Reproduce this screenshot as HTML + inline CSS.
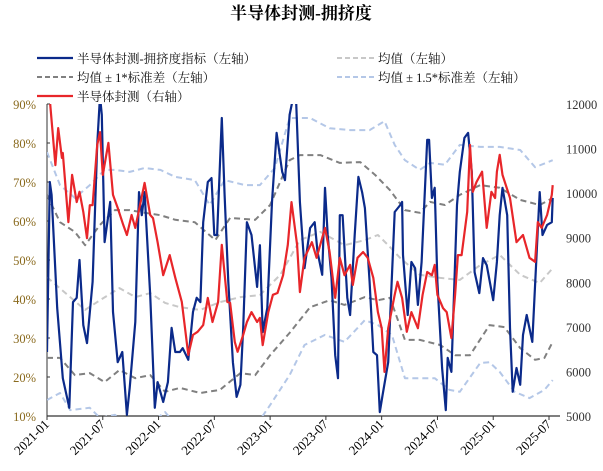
<!DOCTYPE html>
<html><head><meta charset="utf-8"><style>
html,body{margin:0;padding:0;background:#fff;width:603px;height:471px;overflow:hidden}
svg{display:block}
text{font-family:"Liberation Serif","Noto Serif CJK SC",serif}
</style></head><body>
<svg id="chart" width="603" height="471" viewBox="0 0 603 471" xmlns="http://www.w3.org/2000/svg">
<text x="301" y="19" text-anchor="middle" font-size="17" font-weight="bold" fill="#000">半导体封测-拥挤度</text>
<g id="legend" font-size="12.5">
 <g><line x1="37" y1="58" x2="73" y2="58" stroke="#0b2a8a" stroke-width="2.2"/><text x="77" y="63" fill="#111">半导体封测-拥挤度指标（左轴）</text></g>
 <g><line x1="337" y1="58" x2="375" y2="58" stroke="#c8c8c8" stroke-width="2" stroke-dasharray="5,3"/><text x="378" y="63" fill="#111">均值（左轴）</text></g>
 <g><line x1="37" y1="77" x2="73" y2="77" stroke="#808080" stroke-width="2" stroke-dasharray="5,3"/><text x="77" y="82" fill="#111">均值 ± 1*标准差（左轴）</text></g>
 <g><line x1="337" y1="77" x2="375" y2="77" stroke="#b4c7e7" stroke-width="2" stroke-dasharray="5,3"/><text x="378" y="82" fill="#111">均值 ± 1.5*标准差（左轴）</text></g>
 <g><line x1="37" y1="96" x2="73" y2="96" stroke="#e8262a" stroke-width="2.2"/><text x="77" y="101" fill="#111">半导体封测（右轴）</text></g>
</g>
<g id="axes"></g>
<defs><clipPath id="plotclip"><rect x="47" y="104" width="513" height="312"/></clipPath></defs>
<g id="series" clip-path="url(#plotclip)"></g>
</svg>
<script>
// months since 2021-01, value
const xTickLabels = ["2021-01","2021-07","2022-01","2022-07","2023-01","2023-07","2024-01","2024-07","2025-01","2025-07"];
const xTickMonths = [0,6,12,18,24,30,36,42,48,54];
const leftTicks = [10,20,30,40,50,60,70,80,90];
const rightTicks = [5000,6000,7000,8000,9000,10000,11000,12000];
const crowdT = [0,0.3,0.5,1.1,1.7,2.4,2.8,3.2,3.5,3.9,4.3,4.9,5.4,5.7,5.9,6.2,6.8,7.1,7.6,8.1,8.6,8.9,9.5,9.9,10.2,10.5,11.1,11.6,11.9,12.5,13.0,13.4,13.8,14.3,14.6,15.2,15.7,16.1,16.5,16.8,17.3,17.7,18.0,18.3,18.8,19.1,19.5,20.0,20.4,20.8,21.1,21.5,22.0,22.6,22.9,23.2,23.7,24.2,24.7,25.3,25.6,26.1,26.5,26.8,27.2,27.7,28.3,28.8,29.1,29.6,29.9,30.2,30.6,31.0,31.3,31.5,31.8,32.3,32.6,33.1,33.5,33.9,34.2,34.7,35.1,35.5,35.8,36.1,36.7,37.4,38.0,38.2,38.3,38.8,39.2,39.6,39.9,40.3,40.9,41.1,41.4,41.7,42.0,42.5,42.9,43.1,43.5,44.1,44.4,44.9,45.3,45.7,46.0,46.5,46.9,47.3,48.0,48.4,48.7,49.0,49.5,49.8,50.1,50.5,50.9,51.2,51.6,52.2,52.7,53.0,53.3,53.8,54.3,54.4];
const crowdV = [26.4,70.0,66.7,37.7,19.7,12.1,39.2,40.3,50.0,33.3,28.7,44.4,79.5,92,87.2,54.6,64.9,36.7,23.8,26.4,10.3,17.2,34.1,67.4,61.5,67.4,41.0,12.1,18.7,13.6,18.7,32.6,26.4,26.4,27.4,24.4,36.7,40.3,39.2,59.7,70.0,71.0,56.4,56.4,86.4,66.7,44.4,23.8,14.9,18.0,32.6,59.7,56.4,43.1,53.8,31.5,37.7,64.9,82.6,72.6,70.5,87.2,92,91,64.9,47.9,58.2,59.7,52.1,46.2,68.5,56.4,45.4,25.6,19.7,61.5,61.5,40.3,35.9,56.4,71.3,67.4,63.3,44.4,26.4,25.6,11.0,15.4,23.8,62.3,64.1,64.9,51.3,35.9,49.5,47.9,38.5,49.5,80.8,80.8,65.9,68.5,44.4,22.3,11.5,24.9,21.3,64.1,72.6,81.3,82.6,72.6,46.9,41.5,50.5,48.7,39.7,49.5,61.5,68.5,61.5,32.6,16.2,22.3,18.0,30.8,35.9,29.0,53.1,67.4,56.4,59.0,59.7,65.9];
const priceT = [0,0.3,0.9,1.2,1.6,1.7,2.3,2.7,3.2,3.5,3.9,4.3,4.6,4.9,5.4,5.7,6.0,6.6,7.1,7.6,8.2,8.6,9.1,9.5,10.0,10.5,11.1,11.4,11.9,12.5,13.2,13.8,14.5,15.2,15.7,16.2,16.8,17.3,17.8,18.4,18.8,19.4,19.7,20.2,20.5,21.1,21.5,22.0,22.6,22.9,23.2,23.8,24.3,24.8,25.4,25.9,26.3,26.9,27.2,27.7,28.5,29.0,29.9,30.4,31.0,31.5,32.0,32.6,32.9,33.4,34.0,34.5,35.1,35.6,36.0,36.3,36.7,37.4,37.7,38.2,38.7,39.2,39.9,40.4,40.9,41.4,41.7,42.0,42.6,43.0,43.5,43.9,44.2,44.6,45.2,45.5,45.8,46.2,46.8,47.3,47.8,48.2,48.4,48.7,49.0,49.8,50.5,51.2,51.9,52.5,52.8,53.2,53.8,54.3,54.4];
const priceV = [12100,12100,10630,11460,10790,10900,9350,10410,9800,10030,9580,8990,9730,9730,11080,11370,10410,11130,9960,9670,9290,9060,9510,9220,9730,10230,9510,9440,8900,8160,8610,8100,7560,6370,6820,6890,7040,7650,7110,7560,8840,7560,7540,6660,6440,6820,7110,7330,7110,7200,6590,7330,7720,7760,8160,8840,9800,8840,7780,8550,8900,8550,9220,8680,7650,8550,8160,8390,7940,8550,8680,8550,8100,7330,6970,5990,6970,7720,8010,7650,6890,7330,6970,7720,8230,8160,8390,7720,7420,7330,6750,7720,8610,8610,9580,11080,10030,10250,10480,9220,10030,9890,10480,10860,10410,9890,8900,9060,8550,8460,9350,9220,9510,9960,10180];
const meanT = [0,1.6,4.1,5.7,7.8,9.5,11.1,12.7,14.3,16.5,18.6,20.8,22.9,25.1,27.2,29.4,32.0,34.2,35.6,36.7,38.0,40.1,42.3,44.4,46.6,48.7,50.9,53.0,54.4];
const meanV = [45.6,42.3,37.2,39.7,42.8,40.5,41.5,39.0,37.9,37.2,39.2,40.5,41.0,46.2,55.1,57.2,53.8,55.1,56.4,53.8,50.5,46.2,45.4,44.9,48.7,51.3,46.2,44.1,47.9];
const up1T = [0,1.4,3.0,4.1,5.7,7.3,8.9,10.5,12.2,13.8,15.9,18.1,19.7,22.4,24.0,26.1,27.2,29.4,31.5,33.7,35.3,36.9,38.5,40.1,41.2,42.8,44.4,46.6,48.7,50.9,53.0,54.4];
const up1V = [66.7,59.7,57.2,53.8,59.0,62.8,62.8,62.1,61.5,60.3,59.7,55.1,60.8,60.3,64.1,75.6,76.9,76.9,74.9,75.1,71.8,67.9,62.8,62.1,64.9,64.1,66.7,69.2,68.5,65.4,64.1,65.9];
const lo1T = [0,1.4,3.0,4.6,6.2,7.8,9.5,11.1,12.7,14.3,16.5,18.6,20.8,22.4,24.0,26.1,28.3,30.4,32.0,34.2,35.6,36.9,38.5,40.1,42.3,43.9,45.5,47.6,49.2,50.9,52.5,53.5,54.4];
const lo1V = [24.9,24.9,20.5,21.0,18.7,21.8,19.7,20.5,16.2,17.2,15.9,16.7,21.0,20.5,25.6,31.3,37.9,39.7,38.5,40.5,39.7,40.3,29.5,29.5,28.2,25.6,25.6,33.3,32.8,27.4,24.4,24.9,29.0];
const up15T = [0,1.4,3.0,4.6,6.2,7.3,8.9,10.5,12.2,13.8,15.9,17.5,19.1,21.3,22.9,24.5,26.1,28.3,30.4,32.6,34.7,36.3,37.4,38.5,40.1,41.2,42.8,44.4,46.6,48.7,50.9,52.5,54.4];
const up15V = [77.7,69.2,65.9,69.2,73.1,73.1,72.6,73.6,73.1,71.3,70.5,64.1,70.5,69.2,69.2,73.6,86.4,86.4,83.8,83.3,83.3,85.6,79.5,75.6,73.1,74.9,74.4,79.5,79.0,79.0,78.2,73.8,75.6];
const lo15T = [0,1.4,2.5,4.6,5.7,7.3,8.4,10.5,11.6,12.7,14.3,16.5,18.1,20.2,22.9,24.0,26.1,27.7,29.9,32.0,34.2,35.6,37.1,38.5,40.1,41.7,43.3,44.4,46.6,47.6,48.7,50.3,51.9,53.5,54.4];
const lo15V = [14.1,15.9,11.5,12.1,9.5,10.3,8.2,9.5,9.0,11.0,6.4,9.0,9.0,5.1,9.0,12.8,20.5,28.2,30.8,29.0,34.6,33.3,30.8,19.7,19.7,19.7,16.7,16.2,23.6,23.8,21.3,16.2,14.6,16.7,19.2];

const NS="http://www.w3.org/2000/svg";
const X0=47, PXM=(549-47)/54;
const xs=t=>X0+t*PXM;
const yL=v=>416-(v-10)*(312/80);
const yR=v=>416-(v-5000)*(312/7000);
const axes=document.getElementById('axes'), series=document.getElementById('series');
function mk(tag,attrs,parent){const e=document.createElementNS(NS,tag);for(const k in attrs)e.setAttribute(k,attrs[k]);parent.appendChild(e);return e;}
let ax=mk('line',{x1:X0,y1:416,x2:560,y2:416,stroke:'#333','stroke-width':1.2},axes);


let ay=mk('line',{x1:X0,y1:104,x2:X0,y2:416,stroke:'#333','stroke-width':1},axes);


xTickMonths.forEach((m,i)=>{
  const x=xs(m);
  const tk=mk('line',{x1:x,y1:416,x2:x,y2:420,stroke:'#333'},axes);
  
  
  const t=mk('text',{x:x+3,y:425,'font-size':13,'text-anchor':'end',fill:'#000',transform:`rotate(-45 ${x+3} 425)`},axes);
  t.textContent=xTickLabels[i];
  
  
});
leftTicks.forEach(v=>{
  const y=yL(v);
  const tk=mk('line',{x1:X0,y1:y,x2:X0+3,y2:y,stroke:'#333'},axes);
  
  
  const t=mk('text',{x:36,y:y+5,'font-size':12.5,'text-anchor':'end',fill:'#8a6a1e'},axes);
  t.textContent=v+'%';
  
  
});
rightTicks.forEach(v=>{
  const t=mk('text',{x:566,y:yR(v)+5,'font-size':12.5,'text-anchor':'start',fill:'#333'},axes);
  t.textContent=v;
  
  
});
function line(T,V,yf,stroke,w,dash,name){
  const d=T.map((t,i)=>(i?'L':'M')+xs(t).toFixed(1)+','+yf(V[i]).toFixed(1)).join('');
  const p=mk('path',{d:d,fill:'none',stroke:stroke,'stroke-width':w,'stroke-linejoin':'round'},series);
  if(dash)p.setAttribute('stroke-dasharray',dash);
  
  
}
line(up15T,up15V,yL,'#b4c7e7',2,'6,4','upper-1-5sd-line');
line(lo15T,lo15V,yL,'#b4c7e7',2,'6,4','lower-1-5sd-line');
line(meanT,meanV,yL,'#c8c8c8',2,'6,4','mean-line');
line(up1T,up1V,yL,'#808080',2,'6,4','upper-1sd-line');
line(lo1T,lo1V,yL,'#808080',2,'6,4','lower-1sd-line');
line(crowdT,crowdV,yL,'#0b2a8a',2.2,null,'crowding-index-line');
line(priceT,priceV,yR,'#e8262a',2.2,null,'price-line');
</script>
</body></html>
